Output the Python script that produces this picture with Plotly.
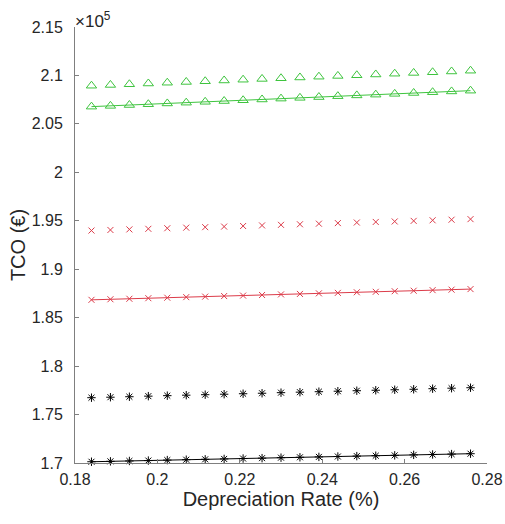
import plotly.graph_objects as go

# Depreciation rate (x)
depreciation = [0.1840, 0.1886, 0.1932, 0.1978, 0.2024, 0.2070, 0.2116, 0.2162, 0.2208,
                0.2254, 0.2300, 0.2346, 0.2392, 0.2438, 0.2484, 0.2530, 0.2576, 0.2622,
                0.2668, 0.2714, 0.2760]

# TCO series (EUR)
green_markers = [208940, 209020, 209090, 209170, 209250, 209330, 209400, 209480, 209560, 209640,
                 209710, 209790, 209870, 209950, 210020, 210100, 210180, 210260, 210330, 210410, 210490]
green_line = [206780, 206860, 206950, 207030, 207110, 207190, 207280, 207360, 207440, 207520,
              207610, 207690, 207770, 207860, 207940, 208020, 208100, 208190, 208270, 208350, 208430]
red_markers = [193990, 194050, 194110, 194170, 194230, 194290, 194340, 194400, 194460, 194520,
               194580, 194640, 194700, 194760, 194820, 194880, 194930, 194990, 195050, 195110, 195170]
red_line = [186840, 186900, 186950, 187010, 187060, 187120, 187170, 187230, 187280, 187340,
            187400, 187450, 187510, 187560, 187620, 187670, 187730, 187780, 187840, 187890, 187950]
black_markers = [176740, 176790, 176840, 176900, 176950, 177000, 177050, 177100, 177150, 177200,
                 177260, 177310, 177360, 177410, 177460, 177510, 177560, 177610, 177670, 177720, 177770]
black_line = [170130, 170170, 170210, 170250, 170300, 170340, 170380, 170420, 170460, 170500,
              170550, 170590, 170630, 170670, 170710, 170750, 170790, 170840, 170880, 170920, 170960]

x_ticks = [0.18, 0.20, 0.22, 0.24, 0.26, 0.28]
x_tick_text = ["0.18", "0.2", "0.22", "0.24", "0.26", "0.28"]
y_ticks = [170000, 175000, 180000, 185000, 190000, 195000, 200000, 205000, 210000, 215000]
y_tick_text = ["1.7", "1.75", "1.8", "1.85", "1.9", "1.95", "2", "2.05", "2.1", "2.15"]

GREEN = "#3ec43e"
RED = "#dc3c4a"
BLACK = "#000000"

fig = go.Figure()

def add(y, color, symbol, size, line):
    fig.add_trace(go.Scatter(
        x=depreciation, y=y,
        mode="lines+markers" if line else "markers",
        line=dict(color=color, width=1),
        marker=dict(symbol=symbol, size=size, color=color,
                    line=dict(color=color, width=1)),
        cliponaxis=False, showlegend=False))

add(green_markers, GREEN, "triangle-up-open", 9, False)
add(green_line, GREEN, "triangle-up-open", 9, True)
add(red_markers, RED, "x-thin-open", 6, False)
add(red_line, RED, "x-thin-open", 6, True)
add(black_markers, BLACK, "asterisk-open", 7, False)
add(black_line, BLACK, "asterisk-open", 7, True)

axis_color = "#7f7f7f"
font_color = "#262626"

fig.update_layout(
    width=505, height=524,
    margin=dict(l=75, r=18, t=27, b=61, autoexpand=False),
    paper_bgcolor="white", plot_bgcolor="white",
    font=dict(family="Liberation Sans, Arial, sans-serif", color=font_color, size=16),
    xaxis=dict(
        range=[0.18, 0.28], tickvals=x_ticks, ticktext=x_tick_text,
        showline=True, linecolor=axis_color, linewidth=1,
        ticks="inside", ticklen=4, tickcolor=axis_color,
        showgrid=False, zeroline=False, mirror=False, automargin=False,
        tickfont=dict(size=16, color=font_color), ticklabelstandoff=2,
        title=dict(text="Depreciation Rate (%)", font=dict(size=20, color=font_color), standoff=4),
    ),
    yaxis=dict(
        range=[170000, 215000], tickvals=y_ticks, ticktext=y_tick_text,
        showline=True, linecolor=axis_color, linewidth=1,
        ticks="inside", ticklen=4, tickcolor=axis_color,
        showgrid=False, zeroline=False, mirror=False, automargin=False,
        tickfont=dict(size=16, color=font_color), ticklabelstandoff=8,
        title=dict(text="TCO (€)", font=dict(size=20, color=font_color), standoff=0),
    ),
    annotations=[dict(
        text="×10<sup>5</sup>", xref="paper", yref="paper", x=0, y=1,
        xanchor="left", yanchor="bottom", showarrow=False,
        font=dict(size=17, color=font_color), xshift=-2, yshift=-6)],
)

fig.write_html(
    "out.html",
    config={"displayModeBar": False},
    post_script="document.body.style.margin='0';document.documentElement.style.overflow='hidden';",
)
